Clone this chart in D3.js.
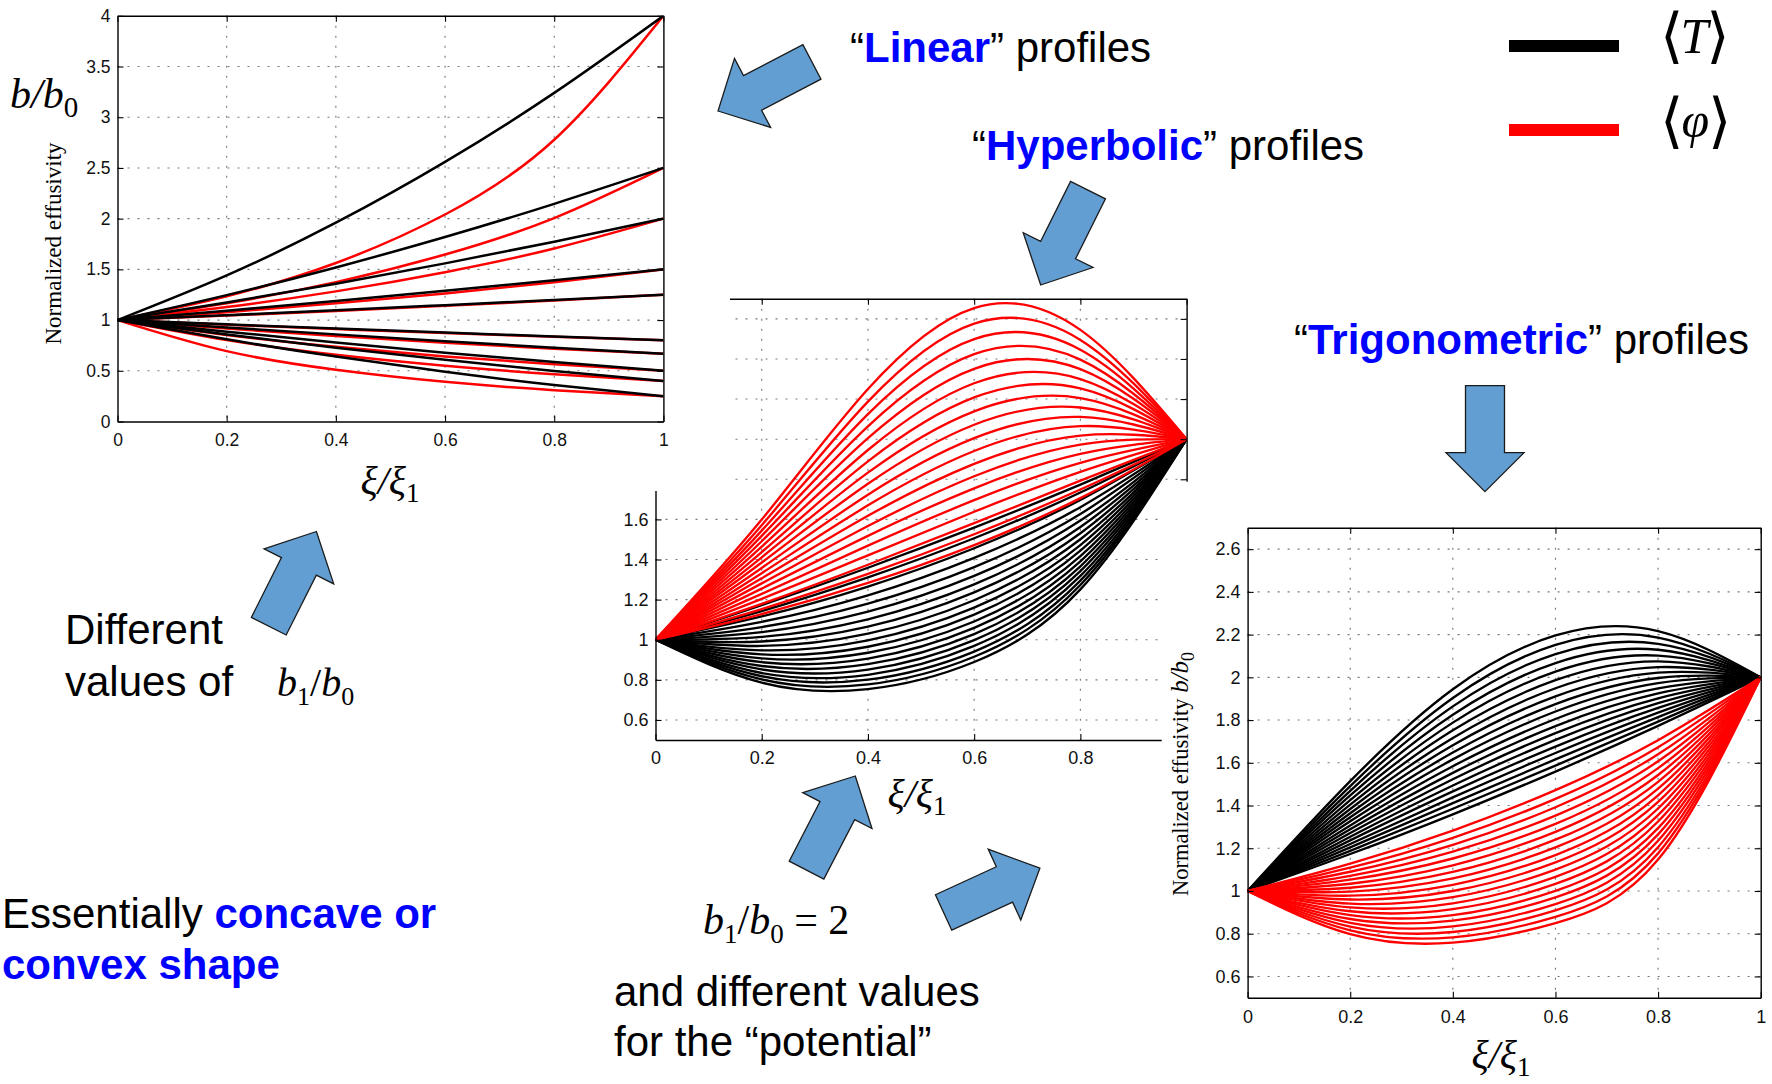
<!DOCTYPE html>
<html><head><meta charset="utf-8">
<script src="https://cdn.jsdelivr.net/npm/d3@7"></script>
<style>body{margin:0;background:#fff;}svg{display:block;}</style>
</head><body>
<svg id="c" width="1772" height="1084"></svg>
<script>
// ---------------- DATA ----------------
const xSamples = [0, 0.2, 0.4, 0.6, 0.8, 1];

// "Linear" profiles, end ratios b1/b0 = 4, 2.5, 2, 1.5, 1.25, 0.8, 0.667, 0.5, 0.4, 0.25
const linearT = [
  [1,1.44,1.96,2.56,3.24,4],
  [1,1.246,1.519,1.819,2.146,2.5],
  [1,1.173,1.359,1.559,1.773,2],
  [1,1.092,1.188,1.288,1.392,1.5],
  [1,1.048,1.097,1.147,1.198,1.25],
  [1,0.958,0.917,0.877,0.838,0.8],
  [1,0.928,0.859,0.792,0.728,0.667],
  [1,0.886,0.779,0.679,0.586,0.5],
  [1,0.858,0.728,0.608,0.498,0.4],
  [1,0.81,0.64,0.49,0.36,0.25]
];
const linearPhi = [
  [1,1.235,1.563,2.041,2.778,4],
  [1,1.165,1.374,1.646,2.006,2.5],
  [1,1.128,1.283,1.472,1.706,2],
  [1,1.078,1.165,1.263,1.374,1.5],
  [1,1.044,1.090,1.140,1.193,1.25],
  [1,0.954,0.912,0.872,0.835,0.8],
  [1,0.916,0.842,0.777,0.718,0.667],
  [1,0.853,0.736,0.642,0.564,0.5],
  [1,0.803,0.658,0.550,0.466,0.4],
  [1,0.694,0.510,0.391,0.309,0.25]
];

// "Hyperbolic" profiles, b1/b0 = 2
const hyperT = [
  [1,1.173,1.359,1.559,1.773,2],
  [1,1.143,1.311,1.506,1.734,2],
  [1,1.116,1.265,1.456,1.697,2],
  [1,1.089,1.221,1.408,1.661,2],
  [1,1.063,1.180,1.362,1.627,2],
  [1,1.038,1.140,1.318,1.594,2],
  [1,1.014,1.102,1.276,1.562,2],
  [1,0.991,1.065,1.236,1.531,2],
  [1,0.969,1.030,1.197,1.501,2],
  [1,0.947,0.997,1.160,1.472,2],
  [1,0.927,0.965,1.125,1.444,2],
  [1,0.907,0.935,1.091,1.417,2],
  [1,0.888,0.906,1.059,1.391,2],
  [1,0.869,0.878,1.028,1.366,2],
  [1,0.852,0.851,0.998,1.342,2],
  [1,0.834,0.825,0.969,1.318,2],
  [1,0.818,0.801,0.941,1.295,2],
  [1,0.802,0.777,0.915,1.273,2],
  [1,0.786,0.754,0.889,1.251,2]
];
const hyperPhi = [
  [1,1.128,1.283,1.472,1.706,2],
  [1,1.153,1.328,1.526,1.749,2],
  [1,1.179,1.374,1.581,1.793,2],
  [1,1.204,1.421,1.638,1.837,2],
  [1,1.229,1.469,1.696,1.882,2],
  [1,1.255,1.518,1.755,1.927,2],
  [1,1.281,1.567,1.815,1.973,2],
  [1,1.306,1.618,1.877,2.018,2],
  [1,1.332,1.670,1.941,2.065,2],
  [1,1.358,1.723,2.005,2.111,2],
  [1,1.385,1.778,2.072,2.158,2],
  [1,1.411,1.833,2.139,2.205,2],
  [1,1.437,1.889,2.208,2.253,2],
  [1,1.464,1.946,2.279,2.300,2],
  [1,1.491,2.005,2.351,2.349,2],
  [1,1.518,2.064,2.424,2.397,2],
  [1,1.544,2.125,2.499,2.446,2],
  [1,1.571,2.187,2.576,2.495,2],
  [1,1.599,2.250,2.654,2.545,2]
];

// "Trigonometric" profiles, b1/b0 = 2
const trigT = [
  [1,1.173,1.359,1.559,1.773,2],
  [1,1.188,1.385,1.587,1.793,2],
  [1,1.204,1.411,1.616,1.814,2],
  [1,1.220,1.438,1.646,1.835,2],
  [1,1.237,1.466,1.676,1.857,2],
  [1,1.254,1.494,1.707,1.879,2],
  [1,1.271,1.523,1.739,1.902,2],
  [1,1.289,1.553,1.772,1.925,2],
  [1,1.307,1.584,1.805,1.948,2],
  [1,1.326,1.616,1.840,1.973,2],
  [1,1.345,1.648,1.875,1.997,2],
  [1,1.364,1.682,1.911,2.022,2],
  [1,1.384,1.716,1.949,2.048,2],
  [1,1.404,1.752,1.987,2.075,2],
  [1,1.425,1.788,2.027,2.102,2],
  [1,1.447,1.825,2.067,2.129,2],
  [1,1.469,1.864,2.109,2.157,2],
  [1,1.491,1.903,2.152,2.186,2],
  [1,1.514,1.944,2.196,2.216,2]
];
const trigPhi = [
  [1,1.128,1.283,1.472,1.706,2],
  [1,1.109,1.249,1.431,1.673,2],
  [1,1.090,1.216,1.392,1.640,2],
  [1,1.071,1.184,1.353,1.607,2],
  [1,1.053,1.152,1.314,1.575,2],
  [1,1.034,1.120,1.277,1.543,2],
  [1,1.015,1.089,1.240,1.511,2],
  [1,0.997,1.059,1.204,1.479,2],
  [1,0.978,1.029,1.168,1.448,2],
  [1,0.960,1.000,1.134,1.417,2],
  [1,0.941,0.971,1.100,1.386,2],
  [1,0.923,0.942,1.066,1.355,2],
  [1,0.905,0.915,1.033,1.325,2],
  [1,0.887,0.887,1.001,1.294,2],
  [1,0.869,0.861,0.970,1.265,2],
  [1,0.851,0.834,0.939,1.235,2],
  [1,0.833,0.808,0.909,1.205,2],
  [1,0.816,0.783,0.879,1.176,2],
  [1,0.798,0.758,0.850,1.147,2]
];

// tick values
const xTicks = [0, 0.2, 0.4, 0.6, 0.8, 1];
const yTicksLinear = [0, 0.5, 1, 1.5, 2, 2.5, 3, 3.5, 4];
const yTicksProfiles = [0.6, 0.8, 1, 1.2, 1.4, 1.6, 1.8, 2, 2.2, 2.4, 2.6];

// ---------------- DRAWING ----------------
const SANS = "'Liberation Sans', Arial, Helvetica, sans-serif";
const SERIF = "'Liberation Serif', 'Times New Roman', serif";
const BR = "'DejaVu Serif', serif";
const BLUE = "#0000ff";
const svg = d3.select("#c");
svg.append("rect").attr("width",1772).attr("height",1084).attr("fill","#fff");

const fmt = d => String(+d.toFixed(2));

function drawPanel(root, P) {
  const x = d3.scaleLinear().domain([0,1]).range([P.left, P.right]);
  const y = d3.scaleLinear().domain(P.yDomain).range([P.bottom, P.top]);
  const g = root.append("g");
  g.append("g").selectAll("line").data(xTicks.filter(v => v > 0 && v < 1)).join("line")
    .attr("x1", d => x(d)).attr("x2", d => x(d)).attr("y1", P.top).attr("y2", P.bottom)
    .attr("stroke", "#777").attr("stroke-width", 1.1).attr("stroke-dasharray", "2,8");
  g.append("g").selectAll("line").data(P.yTicks.filter(v => v > P.yDomain[0] && v < P.yDomain[1])).join("line")
    .attr("y1", d => y(d)).attr("y2", d => y(d)).attr("x1", P.left).attr("x2", P.right)
    .attr("stroke", "#777").attr("stroke-width", 1.1).attr("stroke-dasharray", "2,8");
  const cid = P.id + "-clip";
  g.append("clipPath").attr("id", cid).append("rect")
    .attr("x", P.left).attr("y", P.top).attr("width", P.right - P.left).attr("height", P.bottom - P.top);
  const line = d3.line().x((d, i) => x(xSamples[i])).y(d => y(d)).curve(d3.curveNatural);
  P.series.forEach(s => {
    g.append("g").attr("clip-path", `url(#${cid})`)
      .selectAll("path").data(s.data).join("path")
      .attr("d", line).attr("fill", "none").attr("stroke", s.color)
      .attr("stroke-width", P.lw).attr("stroke-linejoin", "round");
  });
  const style = sel => {
    sel.select(".domain").attr("stroke", "#000").attr("stroke-width", 1.4);
    sel.selectAll(".tick line").attr("stroke", "#000").attr("stroke-width", 1.1);
    sel.selectAll(".tick text").attr("font-family", SANS).attr("font-size", P.fs).attr("fill", "#111");
    sel.attr("font-family", null).attr("font-size", null);
  };
  g.append("g").attr("transform", `translate(0,${P.bottom})`)
    .call(d3.axisBottom(x).tickValues(xTicks).tickSizeInner(-P.tick).tickSizeOuter(0).tickPadding(P.padX).tickFormat(fmt)).call(style);
  g.append("g").attr("transform", `translate(0,${P.top})`)
    .call(d3.axisTop(x).tickValues(xTicks).tickSizeInner(-P.tick).tickSizeOuter(0).tickFormat("")).call(style);
  g.append("g").attr("transform", `translate(${P.left},0)`)
    .call(d3.axisLeft(y).tickValues(P.yTicks).tickSizeInner(-P.tick).tickSizeOuter(0).tickPadding(P.padY).tickFormat(fmt)).call(style);
  g.append("g").attr("transform", `translate(${P.right},0)`)
    .call(d3.axisRight(y).tickValues(P.yTicks).tickSizeInner(-P.tick).tickSizeOuter(0).tickFormat("")).call(style);
  return g;
}

function rich(parent, x, y, size, family, parts, opts = {}) {
  const t = parent.append("text").attr("x", x).attr("y", y)
    .attr("font-size", size).attr("font-family", family).attr("fill", "#000");
  if (opts.anchor) t.attr("text-anchor", opts.anchor);
  if (opts.transform) t.attr("transform", opts.transform);
  parts.forEach(p => {
    const s = t.append("tspan").text(p.t);
    if (p.fill) s.attr("fill", p.fill);
    if (p.bold) s.attr("font-weight", "bold");
    if (p.italic) s.attr("font-style", "italic");
    if (p.size) s.attr("font-size", p.size);
    if (p.dy) s.attr("dy", p.dy);
    if (p.dx) s.attr("dx", p.dx);
    if (p.family) s.attr("font-family", p.family);
  });
  return t;
}

// ---- Panel 2: hyperbolic (drawn first, partly covered by the other panels) ----
drawPanel(svg, {
  id: "hyp", left: 655.5, right: 1186.6, top: 298.8, bottom: 740, yDomain: [0.5, 2.7],
  yTicks: yTicksProfiles, fs: 18, tick: 6, padX: 11, padY: 7, lw: 2.35,
  series: [{ data: hyperT, color: "#000" }, { data: hyperPhi, color: "#ff0000" }]
});
rich(svg, 917, 807, 40, SERIF, [{t:"ξ/ξ", italic:true},{t:"1", size:27, dy:8}], {anchor:"middle"});

svg.append("rect").attr("x",0).attr("y",0).attr("width",730).attr("height",491).attr("fill","#fff");
svg.append("rect").attr("x",1161.7).attr("y",481.7).attr("width",1772-1161.7).attr("height",1084-481.7).attr("fill","#fff");

// ---- Panel 1: linear ----
drawPanel(svg, {
  id: "lin", left: 117.5, right: 663.4, top: 15.8, bottom: 421.5, yDomain: [0, 4],
  yTicks: yTicksLinear, fs: 17.5, tick: 6, padX: 12, padY: 7, lw: 2.5,
  series: [{ data: linearPhi, color: "#ff0000" }, { data: linearT, color: "#000" }]
});
rich(svg, 10, 108, 42, SERIF, [{t:"b/b", italic:true},{t:"0", size:29, dy:9}]);
rich(svg, 0, 0, 23, SERIF, [{t:"Normalized effusivity"}], {anchor:"middle", transform:"translate(61,243.5) rotate(-90)"});
rich(svg, 390, 494, 40, SERIF, [{t:"ξ/ξ", italic:true},{t:"1", size:27, dy:8}], {anchor:"middle"});

// ---- Panel 3: trigonometric ----
drawPanel(svg, {
  id: "trig", left: 1247.6, right: 1760.7, top: 527.8, bottom: 997.8, yDomain: [0.5, 2.7],
  yTicks: yTicksProfiles, fs: 18, tick: 6, padX: 12.5, padY: 7, lw: 2.35,
  series: [{ data: trigT, color: "#000" }, { data: trigPhi, color: "#ff0000" }]
});
rich(svg, 1501, 1068, 40, SERIF, [{t:"ξ/ξ", italic:true},{t:"1", size:27, dy:8}], {anchor:"middle"});
rich(svg, 0, 0, 22.5, SERIF, [{t:"Normalized effusivity  "},{t:"b/b", italic:true, size:25},{t:"0", size:18, dy:6}],
  {anchor:"middle", transform:"translate(1188,774) rotate(-90)"});

// ---- annotation texts ----
const ann = svg.append("g");
rich(ann, 850, 62, 42, SANS, [{t:"“"},{t:"Linear", bold:true, fill:BLUE},{t:"” profiles"}]);
rich(ann, 972, 160, 42, SANS, [{t:"“"},{t:"Hyperbolic", bold:true, fill:BLUE},{t:"” profiles"}]);
rich(ann, 1294, 354, 42, SANS, [{t:"“"},{t:"Trigonometric", bold:true, fill:BLUE},{t:"” profiles"}]);
rich(ann, 65, 644, 42, SANS, [{t:"Different"}]);
rich(ann, 65, 696, 42, SANS, [{t:"values of"}]);
rich(ann, 277, 696, 40, SERIF, [{t:"b", italic:true},{t:"1", size:26, dy:9},{t:"/", dy:-9},{t:"b", italic:true},{t:"0", size:26, dy:9}]);
rich(ann, 2, 928, 42, SANS, [{t:"Essentially "},{t:"concave or", bold:true, fill:BLUE}]);
rich(ann, 2, 979, 42, SANS, [{t:"convex shape", bold:true, fill:BLUE}]);
rich(ann, 703, 934, 42, SERIF, [{t:"b", italic:true},{t:"1", size:27, dy:9},{t:"/", dy:-9},{t:"b", italic:true},{t:"0", size:27, dy:9},{t:" = 2", dy:-9}]);
rich(ann, 614, 1006, 42, SANS, [{t:"and different values"}]);
rich(ann, 614, 1056, 42, SANS, [{t:"for the “potential”"}]);

// ---- legend ----
const leg = svg.append("g");
leg.append("rect").attr("x",1509).attr("y",40).attr("width",110).attr("height",12).attr("fill","#000");
leg.append("rect").attr("x",1509).attr("y",124).attr("width",110).attr("height",12).attr("fill","#ff0000");
rich(leg, 1660, 56, 60, BR, [{t:"⟨"},{t:"T", italic:true, family:SERIF, size:50, dy:-3, dx:-3},{t:"⟩", dy:3, dx:-2}]);
rich(leg, 1660, 141, 60, BR, [{t:"⟨"},{t:"φ", italic:true, family:SERIF, size:50, dy:-4, dx:-2},{t:"⟩", dy:4, dx:-1}]);

// ---- block arrows ----
const arrowShape = { len: 106, shaft: 39, head: 78, headLen: 39 };
const arrowSpecs = [
  [718, 111, 152.4], [1040.7, 285, 116.5], [1485, 491.6, 90],
  [316.4, 531.5, -63.3], [855.3, 776, -62.6], [1039.9, 868.2, -24.7]
];
const A = arrowShape;
const arrowPts = [[0,0],[-A.headLen,-A.head/2],[-A.headLen,-A.shaft/2],[-A.len,-A.shaft/2],
                  [-A.len,A.shaft/2],[-A.headLen,A.shaft/2],[-A.headLen,A.head/2]];
svg.append("g").selectAll("polygon").data(arrowSpecs).join("polygon")
  .attr("points", arrowPts.map(p => p.join(",")).join(" "))
  .attr("transform", d => `translate(${d[0]},${d[1]}) rotate(${d[2]})`)
  .attr("fill", "#629ed2").attr("stroke", "#1a1a1a").attr("stroke-width", 1.3).attr("stroke-linejoin","miter");
</script>
</body></html>
